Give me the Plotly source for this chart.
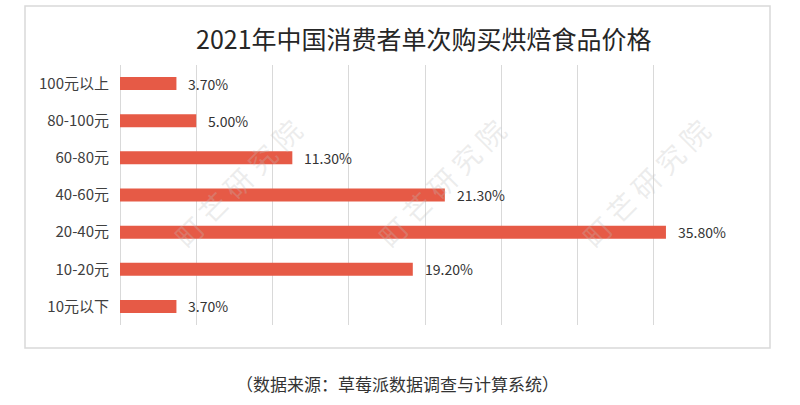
import plotly.graph_objects as go

categories = ["100元以上", "80-100元", "60-80元", "40-60元", "20-40元", "10-20元", "10元以下"]
values = [3.7, 5.0, 11.3, 21.3, 35.8, 19.2, 3.7]
value_labels = ["3.70%", "5.00%", "11.30%", "21.30%", "35.80%", "19.20%", "3.70%"]
x_ticks = [0, 5, 10, 15, 20, 25, 30, 35, 40]

title_text = "2021年中国消费者单次购买烘焙食品价格"
source_text = "（数据来源：草莓派数据调查与计算系统）"
watermark = "町 芒 研 究 院"

FONT = "Noto Sans CJK SC"
W, H = 800, 405
L, R, T, B = 120, 70, 65, 80
PW, PH = W - L - R, H - T - B


def px(xp):
    return (xp - L) / PW


def py(yp):
    return (H - B - yp) / PH


fig = go.Figure()
fig.add_trace(go.Bar(
    x=values, y=categories, orientation="h",
    marker=dict(color="#E65A46", line=dict(width=0)),
    width=0.35, hoverinfo="skip",
))

annotations = []
for v, c, t in zip(values, categories, value_labels):
    annotations.append(dict(
        x=v, y=c, xref="x", yref="y", text=t, showarrow=False,
        xanchor="left", xshift=10, font=dict(family=FONT, size=14, color="#333333"),
    ))

# title and source
annotations.append(dict(x=px(424), y=py(38), xref="paper", yref="paper", text=title_text,
                        showarrow=False, xanchor="center", yanchor="middle",
                        font=dict(family=FONT, size=25, color="#262626")))
annotations.append(dict(x=px(397), y=py(383), xref="paper", yref="paper", text=source_text,
                        showarrow=False, xanchor="center", yanchor="middle",
                        font=dict(family=FONT, size=17, color="#333333")))

# watermarks (only the ones fully inside the picture)
for cx in [237, 441, 645]:
    annotations.append(dict(x=px(cx), y=py(183), xref="paper", yref="paper", text=watermark,
                            showarrow=False, xanchor="center", yanchor="middle", textangle=-45,
                            font=dict(family=FONT, size=28, color="rgba(190,190,190,0.28)")))

fig.update_layout(
    width=W, height=H,
    margin=dict(l=L, r=R, t=T, b=B),
    paper_bgcolor="white", plot_bgcolor="white",
    showlegend=False,
    bargap=0.65,
    annotations=annotations,
    shapes=[dict(type="rect", xref="paper", yref="paper",
                 x0=px(25), x1=px(770), y0=py(348), y1=py(6),
                 line=dict(color="#D9D9D9", width=1.5), fillcolor="rgba(0,0,0,0)", layer="below")],
    xaxis=dict(range=[0, 40], tickvals=x_ticks, showticklabels=False, showgrid=True,
               gridcolor="#D9D9D9", gridwidth=1, zeroline=True, zerolinecolor="#D9D9D9",
               zerolinewidth=1, showline=False, fixedrange=True),
    yaxis=dict(categoryorder="array", categoryarray=categories, autorange="reversed",
               showgrid=False, zeroline=False, showline=False, ticks="",
               ticklabelstandoff=10,
               tickfont=dict(family=FONT, size=15, color="#404040")),
)

fig.write_html("out.html")
